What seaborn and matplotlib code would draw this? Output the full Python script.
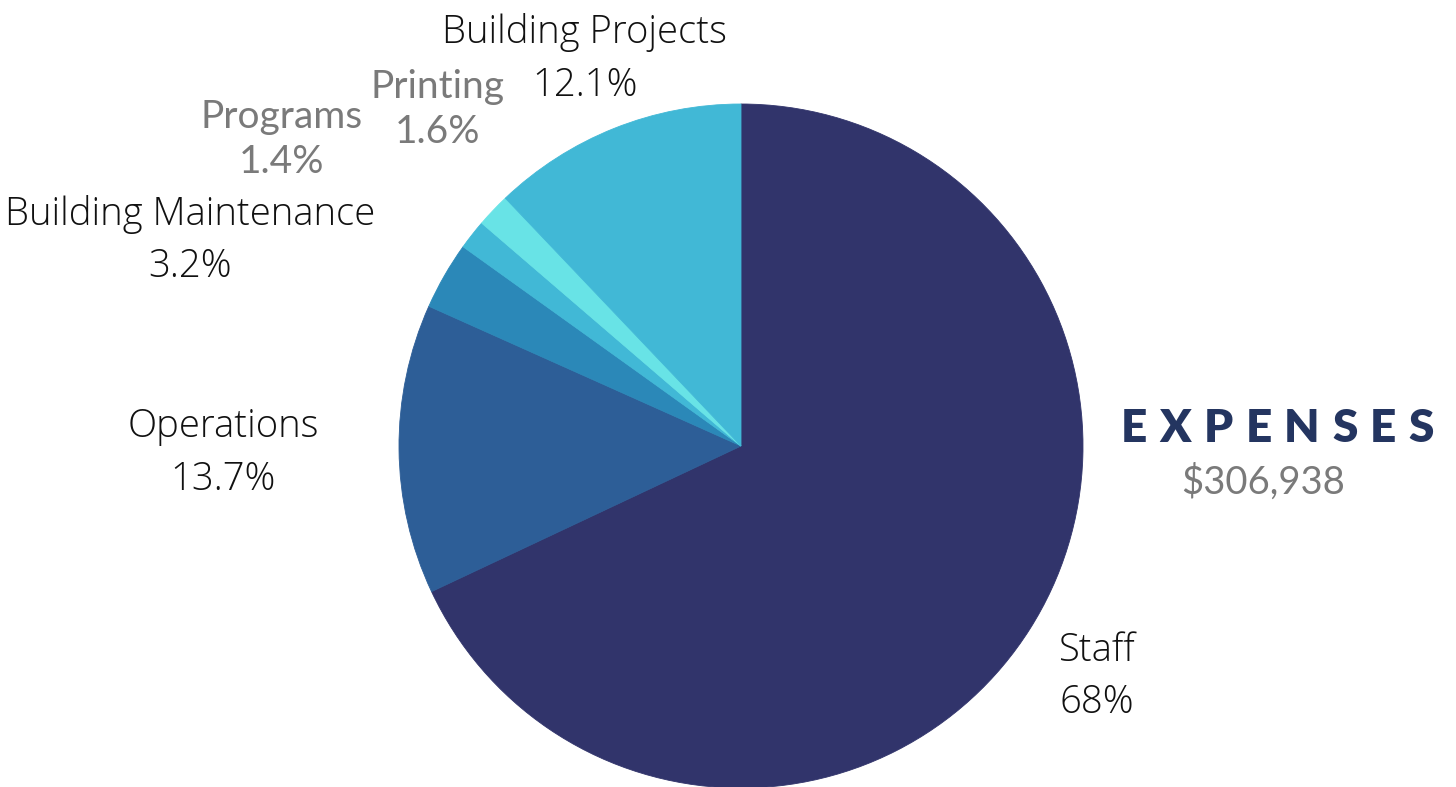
import matplotlib
matplotlib.use("Agg")
import matplotlib.pyplot as plt
import seaborn as sns

categories = ["Staff", "Operations", "Building Maintenance", "Programs", "Printing", "Building Projects"]
shares = [68.0, 13.7, 3.2, 1.4, 1.6, 12.1]
share_labels = ["68%", "13.7%", "3.2%", "1.4%", "1.6%", "12.1%"]
title_text = "EXPENSES"
total_text = "$306,938"

colors = ["#31346B", "#2D5E97", "#2B88B8", "#41B8D6", "#68E3E6", "#41B8D6"]

sns.set_theme(style="white")
plt.rcParams["font.family"] = ["Open Sans", "DejaVu Sans"]

W, H = 1456, 787
fig = plt.figure(figsize=(W / 100, H / 100), dpi=100)
ax = fig.add_axes([0, 0, 1, 1])

cx, cy, r = 741, H - 446, 342
ax.pie(shares, colors=colors, startangle=90, counterclock=False,
       center=(cx, cy), radius=r,
       wedgeprops=dict(linewidth=0.6, antialiased=True))
for w in ax.patches:
    w.set_edgecolor(w.get_facecolor())
ax.set_xlim(0, W)
ax.set_ylim(0, H)
ax.set_aspect("auto")
ax.axis("off")

# label positions (pixel centres, y from top)
pos = {
    "Staff": (1097, 651, 703),
    "Operations": (223, 427, 480),
    "Building Maintenance": (190, 214, 267),
    "Programs": (282, 117, 162),
    "Printing": (438, 87, 132),
    "Building Projects": (585, 33, 86),
}
grey_cats = {"Programs", "Printing"}
for cat, lab in zip(categories, share_labels):
    x, y1, y2 = pos[cat]
    if cat in grey_cats:
        kw = dict(family=["Lato", "DejaVu Sans"], fontsize=28, color="#7a7a7a", fontweight="normal")
    else:
        kw = dict(family=["Open Sans", "DejaVu Sans"], fontsize=27.5, color="#111111", fontweight="light")
    ax.text(x, H - y1, cat, ha="center", va="center", **kw)
    ax.text(x, H - y2, lab, ha="center", va="center", **kw)

# letter-spaced title
renderer = fig.canvas.get_renderer()
x0, x1, ty = 1121, 1434, H - 428
tkw = dict(family=["Lato", "DejaVu Sans"], fontsize=33, fontweight="heavy", color="#243560")
letters = []
widths = []
for ch in title_text:
    t = ax.text(0, ty, ch, ha="left", va="center", **tkw)
    bb = t.get_window_extent(renderer=renderer)
    letters.append(t)
    widths.append(bb.width)
gap = ((x1 - x0) - sum(widths)) / (len(title_text) - 1)
xx = x0
for t, wd in zip(letters, widths):
    t.set_x(xx)
    xx += wd + gap

ax.text(1263, H - 482, total_text, ha="center", va="center",
        family=["Lato", "DejaVu Sans"], fontsize=27.5, color="#7a7a7a")

fig.savefig("out.png", dpi=100, facecolor="white")
